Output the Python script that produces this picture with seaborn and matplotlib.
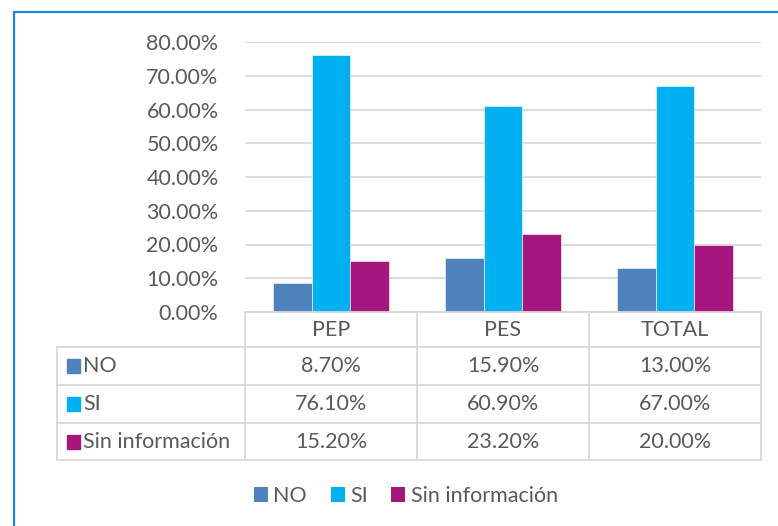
import matplotlib
matplotlib.use("Agg")
import matplotlib.pyplot as plt
import seaborn as sns
import pandas as pd
from matplotlib.lines import Line2D
from matplotlib.patches import Patch

# data
categories = ["PEP", "PES", "TOTAL"]
series = ["NO", "SI", "Sin información"]
no_vals = [8.70, 15.90, 13.00]
si_vals = [76.10, 60.90, 67.00]
sin_vals = [15.20, 23.20, 20.00]
colors = ["#4F81BD", "#00B0F0", "#A6167F"]

df = pd.DataFrame({
    "cat": categories * 3,
    "serie": [s for s in series for _ in categories],
    "val": no_vals + si_vals + sin_vals,
})

sns.set_style("white")
plt.rcParams["font.family"] = ["Lato", "DejaVu Sans"]
txt = "#595959"
grid_c = "#D9D9D9"
fs = 15.5

W, H = 778, 526
fig = plt.figure(figsize=(W / 100, H / 100), dpi=100)
# axes placement in pixels
x0, x1 = 245, 761
y_top, y_bot = 42, 312
ax = fig.add_axes([x0 / W, 1 - y_bot / H, (x1 - x0) / W, (y_bot - y_top) / H])

sns.barplot(data=df, x="cat", y="val", hue="serie", hue_order=series,
            palette=colors, width=0.67, ax=ax, legend=False,
            edgecolor="white", linewidth=0.4, saturation=1)

ax.set_ylim(0, 80)
ax.set_xlim(-0.5, 2.5)
ax.set_yticks(range(0, 81, 10))
ax.set_yticklabels([f"{v:.2f}%" for v in range(0, 81, 10)], color=txt, fontsize=fs)
ax.set_xticks([])
ax.set_xlabel("")
ax.set_ylabel("")
ax.tick_params(axis="y", length=0, pad=19)
for s in ax.spines.values():
    s.set_visible(False)
ax.yaxis.grid(True, color=grid_c, linewidth=1.3)
ax.set_axisbelow(True)

# data table below the axes (axes coords: fraction of 270 px)
ah = y_bot - y_top
def ay(py):
    return (y_bot - py) / ah

trans = ax.get_xaxis_transform()
lx = -0.5 - (x0 - 57) / ((x1 - x0) / 3)
row_y = [312, 347, 385, 423, 460]
kw = dict(color=grid_c, linewidth=1.3, transform=trans, clip_on=False)
# horizontal lines
ax.add_line(Line2D([-0.5, 2.5], [ay(312)] * 2, **kw))
for py in row_y[1:]:
    ax.add_line(Line2D([lx, 2.5], [ay(py)] * 2, **kw))
# vertical lines
for xv in [-0.5, 0.5, 1.5, 2.5]:
    ax.add_line(Line2D([xv, xv], [ay(312), ay(460)], **kw))
ax.add_line(Line2D([lx, lx], [ay(347), ay(460)], **kw))

# header
for i, c in enumerate(categories):
    ax.text(i, ay((312 + 347) / 2), c, transform=trans, ha="center", va="center",
            color=txt, fontsize=fs)
rows = [no_vals, si_vals, sin_vals]
cell_w = (x1 - x0) / 3
for r, (name, vals, col) in enumerate(zip(series, rows, colors)):
    yc = ay((row_y[r + 1] + row_y[r + 2]) / 2)
    ax.add_patch(plt.Rectangle((lx + 10 / cell_w, yc - 7 / ah), 13 / cell_w, 14 / ah,
                               transform=trans, color=col, clip_on=False))
    ax.text(lx + 26 / cell_w, yc, name, transform=trans, ha="left", va="center",
            color=txt, fontsize=fs)
    for i, v in enumerate(vals):
        ax.text(i, yc, f"{v:.2f}%", transform=trans, ha="center", va="center",
                color=txt, fontsize=fs)

# legend
handles = [Patch(facecolor=c, edgecolor="none") for c in colors]
fig.legend(handles, series, loc="center", bbox_to_anchor=(406 / W, 1 - 496 / H),
           ncol=3, frameon=False, fontsize=fs, handlelength=0.65, handleheight=0.65,
           handletextpad=0.25, columnspacing=1.1, labelcolor=txt)

# outer blue border (left and top)
fig.add_artist(Line2D([14 / W, 14 / W], [0, 1 - 12 / H], color="#1A8AD8",
                      linewidth=1.6, transform=fig.transFigure))
fig.add_artist(Line2D([14 / W, 1], [1 - 12 / H, 1 - 12 / H], color="#1A8AD8",
                      linewidth=1.6, transform=fig.transFigure))

fig.savefig("out.png", dpi=100, facecolor="white")
